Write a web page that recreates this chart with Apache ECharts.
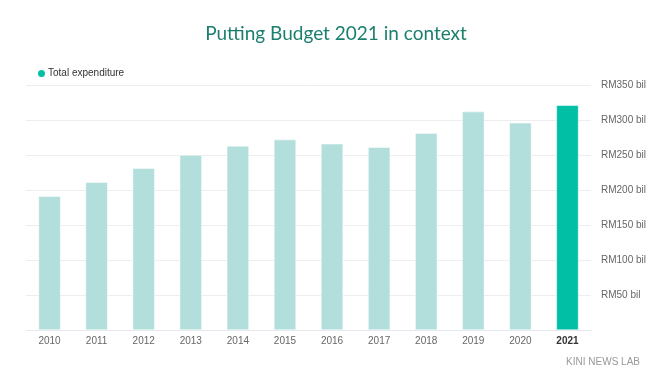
<!DOCTYPE html>
<html><head><meta charset="utf-8">
<script src="https://cdn.jsdelivr.net/npm/echarts@6/dist/echarts.min.js"></script>
<style>html,body{margin:0;padding:0;background:#fff}#c{width:672px;height:382px}</style>
</head><body><div id="c"></div>
<script>
const years = ['2010','2011','2012','2013','2014','2015','2016','2017','2018','2019','2020','2021'];
const expenditure = [191, 211, 231, 250, 263, 272, 266, 261, 281, 312, 296, 321];
const yTicks = [0, 50, 100, 150, 200, 250, 300, 350];
const seriesName = 'Total expenditure';
const highlightYear = '2021';

const chart = echarts.init(document.getElementById('c'));
chart.setOption({
  animation: false,
  title: [{
    text: 'Putting Budget 2021 in context', left: 'center', top: 19,
    textStyle: { fontFamily: 'Lato', fontWeight: 'normal', fontSize: 19, color: '#1b7f6f' }
  }, {
    text: 'KINI NEWS LAB', right: 27, top: 352,
    textStyle: { fontFamily: 'Liberation Sans', fontWeight: 'normal', fontSize: 10, color: '#999' }
  }],
  legend: {
    left: 31, top: 63, icon: 'circle', itemWidth: 9, itemHeight: 9, itemGap: 6,
    textStyle: { fontFamily: 'Liberation Sans', fontSize: 10, color: '#333', padding: [0, 0, 0, -3] },
    data: [{ name: seriesName, itemStyle: { color: '#00bfa5' } }]
  },
  grid: { left: 26, right: 81, top: 85, bottom: 52 },
  xAxis: {
    type: 'category', data: years,
    axisLine: { lineStyle: { color: '#e6e8f0', width: 1 } },
    axisTick: { show: false },
    axisLabel: {
      interval: 0,
      fontFamily: 'Liberation Sans', fontSize: 10, color: '#666', margin: 6,
      formatter: v => v === highlightYear ? '{b|' + v + '}' : v,
      rich: { b: { fontFamily: 'Liberation Sans', fontSize: 10, fontWeight: 'bold', color: '#333' } }
    }
  },
  yAxis: {
    type: 'value', position: 'right', min: yTicks[0], max: yTicks[yTicks.length - 1], interval: 50,
    axisLine: { show: false }, axisTick: { show: false },
    splitLine: { lineStyle: { color: '#eeeeee' } },
    axisLabel: {
      fontFamily: 'Liberation Sans', fontSize: 10, color: '#666', margin: 10,
      formatter: v => v === 0 ? '' : 'RM' + v + ' bil'
    }
  },
  series: [{
    name: seriesName, type: 'bar', barWidth: '47%',
    data: expenditure.map((v, i) => ({
      value: v,
      itemStyle: { color: years[i] === highlightYear ? '#00bfa5' : '#b2dfdb' }
    })),
    itemStyle: { borderColor: '#fff', borderWidth: 0.5 }
  }]
});
</script></body></html>
